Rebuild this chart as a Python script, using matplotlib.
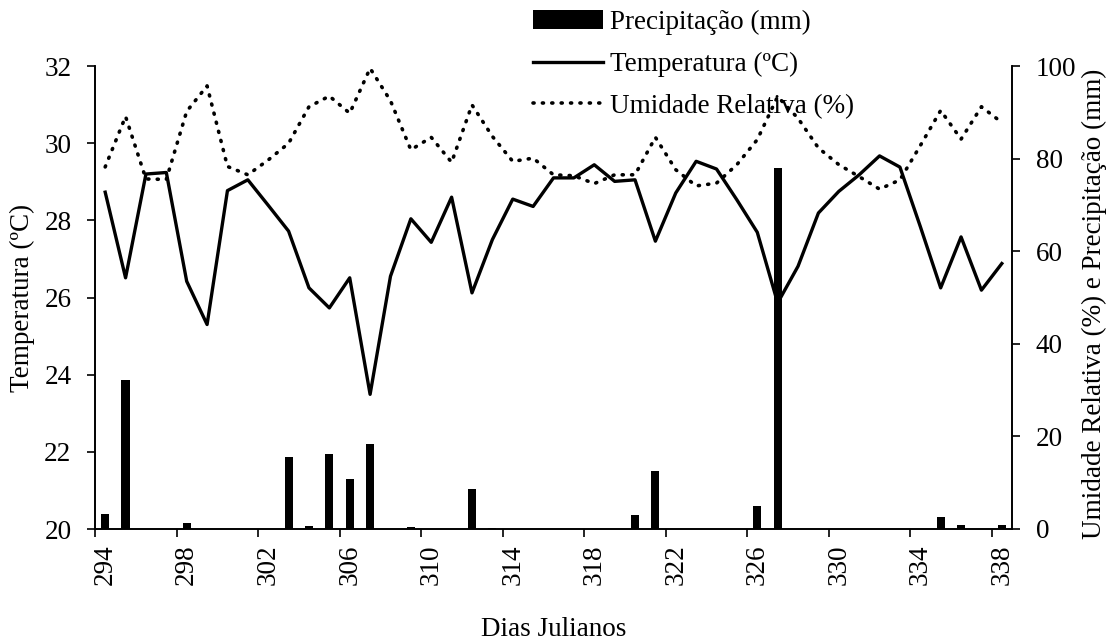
import matplotlib
matplotlib.use("Agg")
import matplotlib.pyplot as plt
import numpy as np

plt.rcParams['font.family'] = ['Liberation Serif', 'DejaVu Serif']

days = list(range(294, 339))
temperatura = [28.73, 26.51, 29.20, 29.24, 26.42, 25.30, 28.77, 29.05, 28.39, 27.72,
               26.25, 25.73, 26.51, 23.49, 26.55, 28.04, 27.43, 28.60, 26.12, 27.50,
               28.55, 28.36, 29.10, 29.10, 29.44, 29.01, 29.05, 27.46, 28.71, 29.53,
               29.33, 28.53, 27.69, 25.86, 26.81, 28.19, 28.75, 29.18, 29.67, 29.38,
               27.84, 26.25, 27.57, 26.19, 26.88]
umidade = [78.2, 89.1, 75.6, 75.5, 90.2, 95.7, 78.3, 76.5, 79.7, 83.3,
           91.2, 93.5, 89.8, 99.5, 92.5, 81.9, 84.6, 79.2, 91.6, 84.8,
           79.4, 80.1, 76.5, 76.3, 74.6, 76.5, 76.5, 84.6, 77.6, 74.1,
           74.7, 78.7, 84.1, 93.4, 88.7, 82.3, 78.7, 76.1, 73.4, 75.4,
           82.8, 90.4, 84.2, 91.2, 87.8]
precipitacao = [3.2, 32.1, 0, 0, 1.3, 0, 0, 0, 0, 15.5,
                0.7, 16.3, 10.7, 18.4, 0, 0.4, 0, 0, 8.6, 0.3,
                0, 0, 0, 0, 0, 0, 3.1, 12.5, 0, 0,
                0, 0, 5.0, 78.0, 0, 0, 0, 0, 0, 0,
                0, 2.6, 0.9, 0, 0.9]
tick_labels = [str(d) for d in days[::4]]

FS = 19.5
fig = plt.figure(figsize=(11.13, 6.44), dpi=100)
ax = fig.add_axes([95/1113, 1-529/644, (1012-95)/1113, (529-66)/644])
ax2 = ax.twinx()

x = np.arange(len(days))
bars = ax2.bar(x, precipitacao, width=0.4, color='black', zorder=2,
               label='Precipitação (mm)')
l_temp, = ax.plot(x, temperatura, color='black', lw=2.4, zorder=3,
                  label='Temperatura (ºC)')
l_um, = ax2.plot(x, umidade, color='black', lw=2.6, linestyle=(0, (0.3, 2.3)),
                 dash_capstyle='round', zorder=3, label='Umidade Relativa (%)')

ax.set_xlim(-0.5, len(days) - 0.5)
ax.set_ylim(20, 32)
ax2.set_ylim(0, 100)
ax.set_yticks(np.arange(20, 33, 2))
ax2.set_yticks(np.arange(0, 101, 20))

ax.set_xticks(np.arange(-0.5, len(days) - 1, 4))
ax.set_xticklabels([])
ax.set_xticks(x[::4], minor=True)
ax.set_xticklabels(tick_labels, minor=True, rotation=90, fontsize=FS)
ax.tick_params(axis='x', which='major', direction='out', length=6, width=1.2)
ax.tick_params(axis='x', which='minor', length=0, pad=11)
ax.tick_params(axis='y', direction='out', length=6, width=1.2, pad=11, labelsize=FS)
ax2.tick_params(axis='y', direction='out', length=6, width=1.2, pad=11, labelsize=FS)

for a in (ax, ax2):
    a.spines['top'].set_visible(False)
    for s in ('left', 'right', 'bottom'):
        a.spines[s].set_linewidth(1.2)
ax.set_zorder(ax2.get_zorder() + 1)
ax.patch.set_visible(False)

ax.set_ylabel('Temperatura (ºC)', fontsize=FS)
ax.yaxis.set_label_coords(-60/917, 0.5)
ax2.set_ylabel('Umidade Relativa (%) e Precipitação (mm)', fontsize=FS)
ax2.yaxis.set_label_coords(1 + 70/917, 0.487)
ax.set_xlabel('Dias Julianos', fontsize=FS)
ax.xaxis.set_label_coords(0.5, -88/463)

fig.legend(handles=[bars, l_temp, l_um], loc='upper left',
           bbox_to_anchor=(533/1113, 1 - 10/644), frameon=False, fontsize=FS,
           handlelength=2.6, handletextpad=0.25, labelspacing=0.62,
           borderpad=0, borderaxespad=0)

fig.savefig('out.png', dpi=100)
